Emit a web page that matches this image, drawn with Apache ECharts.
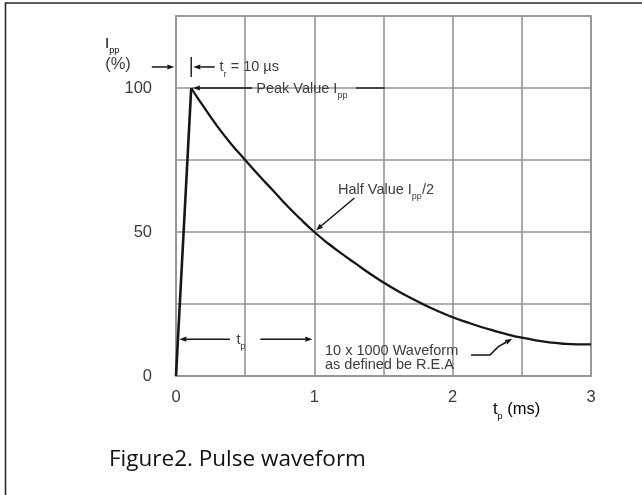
<!DOCTYPE html>
<html>
<head>
<meta charset="utf-8">
<script src="https://cdn.jsdelivr.net/npm/echarts@6/dist/echarts.min.js"></script>
<style>
html,body{margin:0;padding:0;background:#fff;}
#c{width:642px;height:495px;}
</style>
</head>
<body>
<div id="c"></div>
<script>
// ---- data ----
const xTickLabels = [0, 1, 2, 3];
const yTickLabels = [0, 50, 100];
const riseT = [0, 0.11];
const riseI = [0, 100];
const decayT = [0.11, 0.15, 0.2, 0.25, 0.3, 0.4, 0.5, 0.6, 0.7, 0.8, 0.9, 1.0, 1.1, 1.2, 1.3, 1.4, 1.5, 1.6, 1.7, 1.8, 1.9, 2.0, 2.1, 2.2, 2.3, 2.4, 2.5, 2.6, 2.7, 2.8, 2.9, 3.0];
const decayI = [100, 97, 93.5, 90, 86.6, 80.5, 75, 69.6, 64.5, 59.3, 54.5, 50, 46, 42.4, 39, 35.6, 32.5, 29.6, 27, 24.6, 22.4, 20.4, 18.7, 17.1, 15.7, 14.4, 13.3, 12.4, 11.7, 11.2, 11, 11];

const chart = echarts.init(document.getElementById('c'), null, {renderer: 'canvas'});
const txt = '#3c3c3c';
const ink = '#161616';
const gridCol = '#959595';
const FF = '"Liberation Sans", Arial, sans-serif';

chart.setOption({
  animation: false,
  backgroundColor: '#fff',
  grid: {left: 176, right: 51, top: 16, bottom: 119, show: true, borderColor: gridCol, borderWidth: 1.6, containLabel: false},
  xAxis: {
    type: 'value', min: 0, max: 3, interval: 0.5,
    axisLine: {show: true, lineStyle: {color: gridCol, width: 1.6}},
    axisTick: {show: false},
    splitLine: {show: true, lineStyle: {color: gridCol, width: 1.6}},
    axisLabel: {
      margin: 13, color: txt, fontSize: 16.5, fontFamily: FF,
      showMinLabel: true, showMaxLabel: true,
      formatter: v => xTickLabels.includes(v) ? String(v) : ''
    }
  },
  yAxis: {
    type: 'value', min: 0, max: 125, interval: 25,
    axisLine: {show: true, lineStyle: {color: gridCol, width: 1.6}},
    axisTick: {show: false},
    splitLine: {show: true, lineStyle: {color: gridCol, width: 1.6}},
    axisLabel: {
      margin: 24, color: txt, fontSize: 16.5, fontFamily: FF,
      formatter: v => yTickLabels.includes(v) ? String(v) : ''
    }
  },
  series: [
    {type: 'line', data: riseT.map((t, i) => [t, riseI[i]]), showSymbol: false,
     lineStyle: {color: ink, width: 2.6}, z: 5},
    {type: 'line', data: decayT.map((t, i) => [t, decayI[i]]), showSymbol: false, smooth: 0.5,
     lineStyle: {color: ink, width: 2.3}, z: 5}
  ]
});

const P = (x, y) => chart.convertToPixel({gridIndex: 0}, [x, y]);
const els = [];
function line(pts, w) {
  els.push({type: 'polyline', shape: {points: pts}, style: {stroke: ink, lineWidth: w || 1.4, fill: null}, z: 10});
}
function arrow(a, b) {
  const pa = P(a[0], a[1]), pb = P(b[0], b[1]);
  arrowPx([pa, pb]);
}
function arrowPx(pts) {
  const n = pts.length;
  const [x1, y1] = pts[n - 2], [x2, y2] = pts[n - 1];
  const ang = Math.atan2(y2 - y1, x2 - x1);
  const L = 7, W = 2.6;
  const bx = x2 - L * Math.cos(ang), by = y2 - L * Math.sin(ang);
  const px = -Math.sin(ang) * W, py = Math.cos(ang) * W;
  const pts2 = pts.slice(0, n - 1).concat([[bx, by]]);
  line(pts2, 1.5);
  els.push({type: 'polygon', shape: {points: [[x2, y2], [bx + px, by + py], [bx - px, by - py]]}, style: {fill: ink}, z: 10});
}
const rich = {
  a: {fontSize: 14.5, color: txt, fontFamily: FF, verticalAlign: 'bottom', padding: [0, 0, 4, 0]},
  s: {fontSize: 9, color: txt, fontFamily: FF, verticalAlign: 'bottom'}
};
function label(x, y, text, align) {
  const p = P(x, y);
  els.push({type: 'text', x: p[0], y: p[1] + 2.5, z: 11,
    style: {text: text, rich: rich, align: align || 'left', verticalAlign: 'middle', fill: txt}});
}

// t_r markers
const trY = 107.3;
arrow([-0.175, trY], [-0.012, trY]);
line([P(0.11, 110.8), P(0.11, 103.8)], 1.4);
arrow([0.28, trY], [0.125, trY]);
label(0.315, trY, '{a|t}{s|r}{a| = 10 µs}');

// peak
arrow([0.55, 100], [0.122, 100]);
label(0.58, 100, '{a|Peak Value I}{s|pp}');
line([P(1.3, 100), P(1.51, 100)], 1.4);

// half value
label(1.171, 64.9, '{a|Half Value I}{s|pp}{a|/2}');
arrow([1.29, 61.8], [1.012, 50.6]);

// t_p
const tpY = 12.8;
arrow([0.39, tpY], [0.025, tpY]);
label(0.47, tpY, '{a|t}{s|p}', 'center');
arrow([0.61, tpY], [0.985, tpY]);

// waveform note
label(1.077, 9.0, '{a|10 x 1000 Waveform}');
label(1.077, 4.0, '{a|as defined be R.E.A}');
arrowPx([P(2.133, 7.3), P(2.27, 7.3), P(2.33, 10.2), P(2.43, 12.9)]);

// axis names
els.push({type: 'text', x: 105, y: 46, z: 11,
  style: {text: '{b|I}{c|pp}', align: 'left', verticalAlign: 'middle',
    rich: {b: {fontSize: 15, color: txt, fontFamily: FF, verticalAlign: 'bottom', padding: [0, 0, 4, 0]},
           c: {fontSize: 9, color: txt, fontFamily: FF, verticalAlign: 'bottom'}}}});
els.push({type: 'text', x: 118, y: 64, z: 11,
  style: {text: '(%)', align: 'center', verticalAlign: 'middle', fontSize: 16.5, fontFamily: FF, fill: txt}});
els.push({type: 'text', x: 493, y: 411, z: 11,
  style: {text: '{b|t}{c|p}{b| (ms)}', align: 'left', verticalAlign: 'middle',
    rich: {b: {fontSize: 16.5, color: txt, fontFamily: FF, verticalAlign: 'bottom', padding: [0, 0, 4, 0]},
           c: {fontSize: 9, color: txt, fontFamily: FF, verticalAlign: 'bottom'}}}});

// caption
els.push({type: 'text', x: 109, y: 460, z: 11,
  style: {text: 'Figure2. Pulse waveform', align: 'left', verticalAlign: 'middle',
    fontSize: 22.5, fontFamily: '"Open Sans", "Noto Sans", sans-serif', fill: '#111'}});

// outer frame
els.push({type: 'rect', shape: {x: 5.5, y: 3, width: 700, height: 600},
  style: {fill: null, stroke: '#2a2a2a', lineWidth: 1.6}, z: 12});

chart.setOption({graphic: {elements: els}});
</script>
</body>
</html>
